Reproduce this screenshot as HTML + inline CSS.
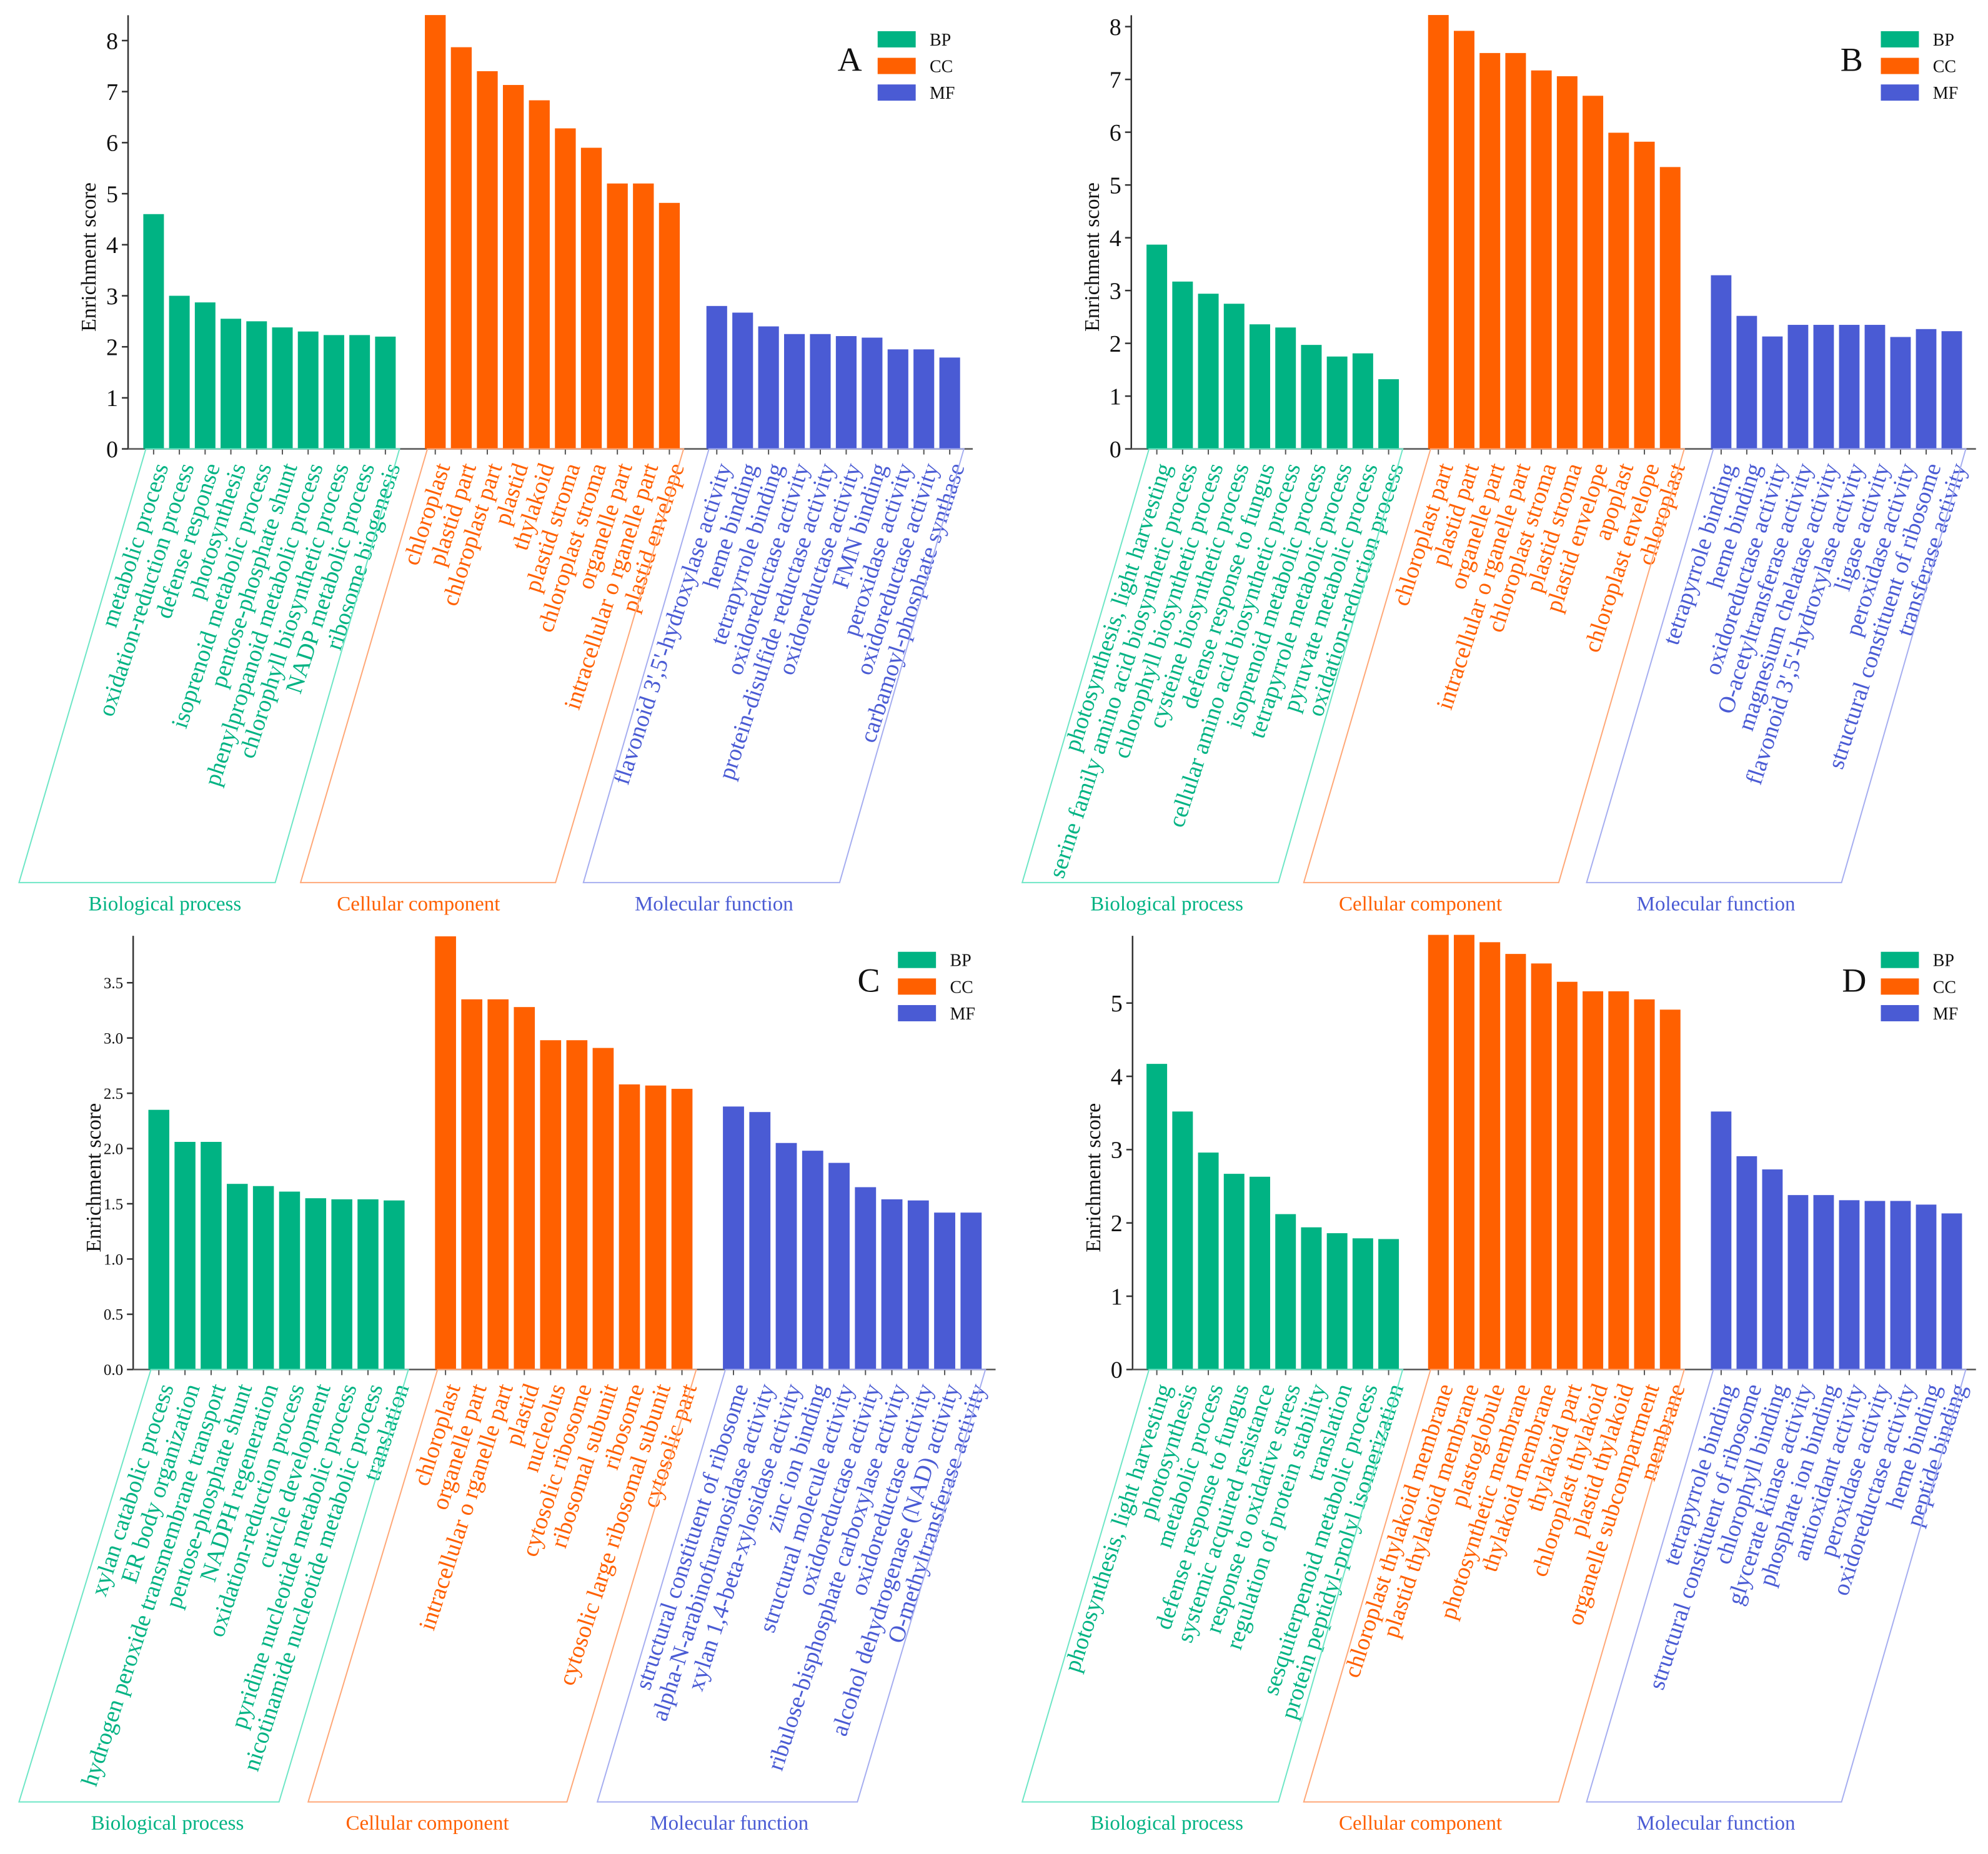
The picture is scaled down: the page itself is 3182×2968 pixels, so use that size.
<!DOCTYPE html>
<html><head><meta charset="utf-8"><style>
html,body{margin:0;padding:0;background:#fff;}
svg{display:block;font-family:"Liberation Serif",serif;}
text{font-family:"Liberation Serif","DejaVu Serif",serif;}
</style></head><body>
<svg id="fig" width="3182" height="2968" viewBox="0 0 3182 2968" xmlns="http://www.w3.org/2000/svg" font-family="Liberation Serif, serif"></svg>
<script>
// ---- data ----
const catNames = ["BP","CC","MF"];
const sectionTitles = ["Biological process","Cellular component","Molecular function"];
const aBP = ["metabolic process","oxidation-reduction process","defense response","photosynthesis","isoprenoid metabolic process","pentose-phosphate shunt","phenylpropanoid metabolic process","chlorophyll biosynthetic process","NADP metabolic process","ribosome biogenesis"];
const aBPv = [4.6,3.0,2.87,2.55,2.5,2.38,2.3,2.23,2.23,2.2];
const aCC = ["chloroplast","plastid part","chloroplast part","plastid","thylakoid","plastid stroma","chloroplast stroma","organelle part","intracellular o rganelle part","plastid envelope"];
const aCCv = [8.5,7.87,7.4,7.13,6.83,6.28,5.9,5.2,5.2,4.82];
const aMF = ["flavonoid 3',5'-hydroxylase activity","heme binding","tetrapyrrole binding","oxidoreductase activity","protein-disulfide reductase activity","oxidoreductase activity","FMN binding","peroxidase activity","oxidoreductase activity","carbamoyl-phosphate synthase"];
const aMFv = [2.8,2.67,2.4,2.25,2.25,2.21,2.18,1.95,1.95,1.79];
const aTicks = [0,1,2,3,4,5,6,7,8];

const bBP = ["photosynthesis, light harvesting","serine family amino acid biosynthetic process","chlorophyll biosynthetic process","cysteine biosynthetic process","defense response to fungus","cellular amino acid biosynthetic process","isoprenoid metabolic process","tetrapyrrole metabolic process","pyruvate metabolic process","oxidation-reduction process"];
const bBPv = [3.87,3.17,2.94,2.75,2.36,2.3,1.97,1.75,1.81,1.32];
const bCC = ["chloroplast part","plastid part","organelle part","intracellular o rganelle part","chloroplast stroma","plastid stroma","plastid envelope","apoplast","chloroplast envelope","chloroplast"];
const bCCv = [8.22,7.92,7.5,7.5,7.17,7.06,6.69,5.99,5.82,5.34];
const bMF = ["tetrapyrrole binding","heme binding","oxidoreductase activity","O-acetyltransferase activity","magnesium chelatase activity","flavonoid 3',5'-hydroxylase activity","ligase activity","peroxidase activity","structural constituent of ribosome","transferase activity"];
const bMFv = [3.29,2.52,2.13,2.35,2.35,2.35,2.35,2.12,2.27,2.23];
const bTicks = [0,1,2,3,4,5,6,7,8];

const cBP = ["xylan catabolic process","ER body organization","hydrogen peroxide transmembrane transport","pentose-phosphate shunt","NADPH regeneration","oxidation-reduction process","cuticle development","pyridine nucleotide metabolic process","nicotinamide nucleotide metabolic process","translation"];
const cBPv = [2.35,2.06,2.06,1.68,1.66,1.61,1.55,1.54,1.54,1.53];
const cCC = ["chloroplast","organelle part","intracellular o rganelle part","plastid","nucleolus","cytosolic ribosome","ribosomal subunit","ribosome","cytosolic large ribosomal subunit","cytosolic part"];
const cCCv = [3.92,3.35,3.35,3.28,2.98,2.98,2.91,2.58,2.57,2.54];
const cMF = ["structural constituent of ribosome","alpha-N-arabinofuranosidase activity","xylan 1,4-beta-xylosidase activity","zinc ion binding","structural molecule activity","oxidoreductase activity","ribulose-bisphosphate carboxylase activity","oxidoreductase activity","alcohol dehydrogenase (NAD) activity","O-methyltransferase activity"];
const cMFv = [2.38,2.33,2.05,1.98,1.87,1.65,1.54,1.53,1.42,1.42];
const cTicks = [0,0.5,1,1.5,2,2.5,3,3.5];

const dBP = ["photosynthesis, light harvesting","photosynthesis","metabolic process","defense response to fungus","systemic acquired resistance","response to oxidative stress","regulation of protein stability","translation","sesquiterpenoid metabolic process","protein peptidyl-prolyl isomerization"];
const dBPv = [4.17,3.52,2.96,2.67,2.63,2.12,1.94,1.86,1.79,1.78];
const dCC = ["chloroplast thylakoid membrane","plastid thylakoid membrane","plastoglobule","photosynthetic membrane","thylakoid membrane","thylakoid part","chloroplast thylakoid","plastid thylakoid","organelle subcompartment","membrane"];
const dCCv = [5.93,5.93,5.83,5.67,5.54,5.29,5.16,5.16,5.05,4.91];
const dMF = ["tetrapyrrole binding","structural constituent of ribosome","chlorophyll binding","glycerate kinase activity","phosphate ion binding","antioxidant activity","peroxidase activity","oxidoreductase activity","heme binding","peptide binding"];
const dMFv = [3.52,2.91,2.73,2.38,2.38,2.31,2.30,2.30,2.25,2.13];
const dTicks = [0,1,2,3,4,5];

// ---- drawing ----
const S = 2.03;
const NS = "http://www.w3.org/2000/svg";
const svg = document.getElementById('fig');
const colors = ["#00b383","#ff6000","#4a5bd4"];
const light = ["#6ee6c6","#ffa878","#a6aef0"];
const FF = "Liberation Serif, DejaVu Serif, serif";
function mk(tag, attrs, parent){const e=document.createElementNS(NS,tag);for(const k in attrs)e.setAttribute(k,attrs[k]);if(tag==='text')e.setAttribute('font-family',FF);(parent||svg).appendChild(e);return e;}

const panels = [
 {id:"a",letter:"A",ax:101,top:12,base:354,unitRef:[8,32],ticks:aTicks,fmt:0,tickFs:38,
  groups:[[113,312],[335,536],[557,757]],axEnd:767,names:[aBP,aCC,aMF],vals:[aBPv,aCCv,aMFv],
  para:[[15,217],[237,438],[460,662]],paraBot:696,secY:712,secX:[130,330,563],leg:[692,31],let:[670,56]},
 {id:"b",letter:"B",ax:892,top:12,base:354,unitRef:[8,21],ticks:bTicks,fmt:0,tickFs:38,
  groups:[[904,1103],[1126,1325],[1349,1547]],axEnd:1558,names:[bBP,bCC,bMF],vals:[bBPv,bCCv,bMFv],
  para:[[806,1008],[1028,1229],[1251,1452]],paraBot:696,secY:712,secX:[920,1120,1353],leg:[1483,31],let:[1460,56]},
 {id:"c",letter:"C",ax:105,top:738,base:1080,unitRef:[3.5,775],ticks:cTicks,fmt:1,tickFs:25,
  groups:[[117,319],[343,546],[570,774]],axEnd:785,names:[cBP,cCC,cMF],vals:[cBPv,cCCv,cMFv],
  para:[[15,220],[243,447],[471,676]],paraBot:1421,secY:1437,secX:[132,337,575],leg:[708,757],let:[685,782]},
 {id:"d",letter:"D",ax:893,top:738,base:1080,unitRef:[5,791],ticks:dTicks,fmt:0,tickFs:38,
  groups:[[904,1103],[1126,1325],[1349,1547]],axEnd:1558,names:[dBP,dCC,dMF],vals:[dBPv,dCCv,dMFv],
  para:[[806,1008],[1028,1229],[1251,1452]],paraBot:1421,secY:1437,secX:[920,1120,1353],leg:[1483,757],let:[1462,782]}
];

panels.forEach(p=>{
  const g = mk('g',{});
  
  
  const base = p.base*S, axX = p.ax*S, top = p.top*S;
  const unit = (p.base - p.unitRef[1])/p.unitRef[0]*S;
  const y = v => base - v*unit;
  const yl = mk('line',{x1:axX,y1:top,x2:axX,y2:base,stroke:'#333','stroke-width':2.5},g);
   
  const xl = mk('line',{x1:axX,y1:base,x2:p.axEnd*S,y2:base,stroke:'#555','stroke-width':2.5},g);
   
  p.ticks.forEach(t=>{
    mk('line',{x1:axX-10,y1:y(t),x2:axX,y2:y(t),stroke:'#333','stroke-width':2.5},g);
    const tx = mk('text',{x:axX-16,y:y(t)+p.tickFs*0.35,'font-size':p.tickFs,'text-anchor':'end',fill:'#111'},g);
    tx.textContent = p.fmt? t.toFixed(1): String(t);
     
  });
  const cy = (p.top+p.base)/2*S;
  const yt = mk('text',{x:0,y:0,'font-size':34,'text-anchor':'middle',fill:'#111',transform:`translate(${axX-52},${cy+40}) rotate(-90)`},g);
  yt.textContent='Enrichment score';
   
  p.groups.forEach((gr,gi)=>{
    const x0=gr[0]*S, x1=gr[1]*S, pitch=(x1-x0)/9.8, bw=pitch*0.8;
    const vals=p.vals[gi], names=p.names[gi];
    vals.forEach((v,i)=>{
      const bx=x0+i*pitch;
      const r=mk('rect',{x:bx,y:y(v),width:bw,height:base-y(v),fill:colors[gi]},g);
      
      
      const cx=bx+bw/2;
      mk('line',{x1:cx,y1:base,x2:cx,y2:base+9,stroke:'#555','stroke-width':2},g);
      const lt=mk('text',{x:0,y:0,'font-size':38,'text-anchor':'end',fill:colors[gi],transform:`translate(${cx+24},${base+28}) rotate(-72)`},g);
      lt.textContent=names[i];
       
    });
    const pa=p.para[gi], pb=p.paraBot*S;
    const pl=mk('polygon',{points:`${(gr[0]+2)*S},${base} ${pa[0]*S},${pb} ${pa[1]*S},${pb} ${(gr[1]+3)*S},${base}`,fill:'none',stroke:light[gi],'stroke-width':2},g);
     
    const st=mk('text',{x:p.secX[gi]*S,y:p.secY*S+12,'font-size':33,'text-anchor':'middle',fill:colors[gi]},g);
    st.textContent=sectionTitles[gi];
     
  });
  catNames.forEach((c,i)=>{
    const ly=(p.leg[1]+i*21)*S;
    const sw=mk('rect',{x:p.leg[0]*S,y:ly-13,width:30*S,height:26,fill:colors[i]},g);
     
    const lt=mk('text',{x:(p.leg[0]+41)*S,y:ly+10,'font-size':28,fill:'#111'},g);
    lt.textContent=c;
     
  });
  const L=mk('text',{x:p.let[0]*S,y:p.let[1]*S,'font-size':54,'text-anchor':'middle',fill:'#111'},g);
  L.textContent=p.letter;
   
});
</script>
</body></html>
